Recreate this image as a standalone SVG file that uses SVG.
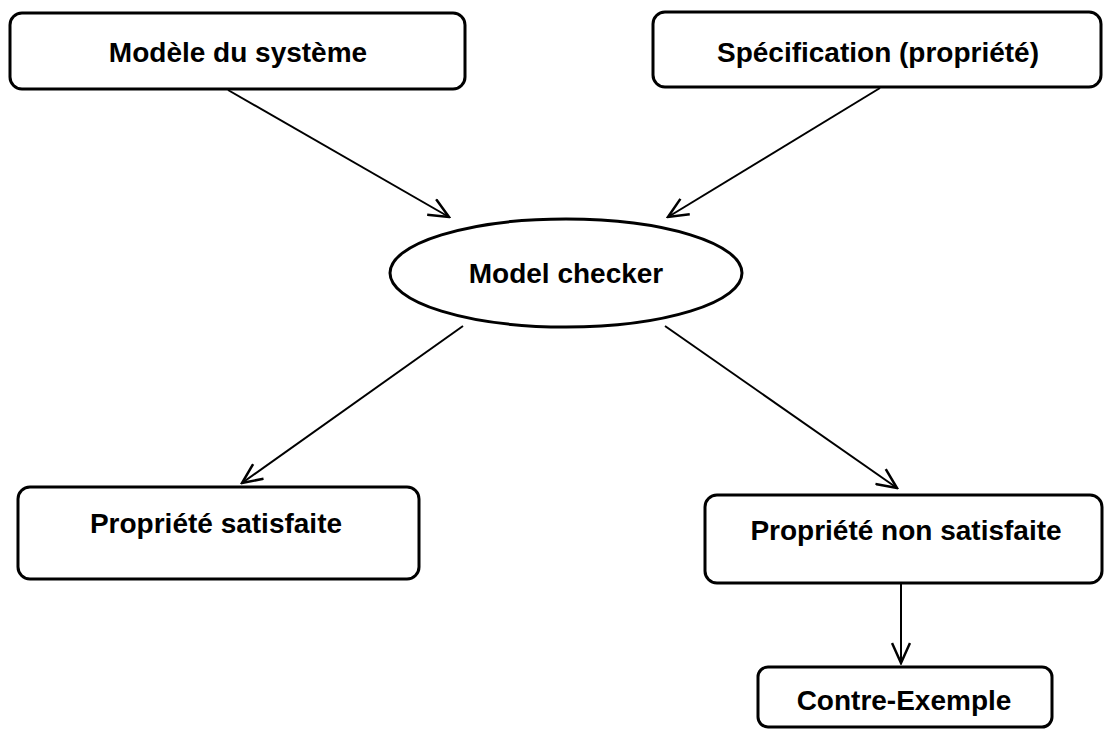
<svg xmlns="http://www.w3.org/2000/svg" width="1104" height="733" viewBox="0 0 1104 733">
<style>
.box{fill:#fff;stroke:#000;stroke-width:3}
.lbl{font-family:"Liberation Sans",Arial,sans-serif;font-weight:bold;font-size:28px;text-anchor:middle;fill:#000}
.edge{stroke:#000;stroke-width:2;fill:none;marker-end:url(#arr)}
</style>
<defs>
<marker id="arr" viewBox="0 0 24 20" refX="22" refY="10" markerWidth="24" markerHeight="20" markerUnits="userSpaceOnUse" orient="auto">
<path d="M2,1 L22,10 L2,19" fill="none" stroke="#000" stroke-width="2.5"/>
</marker>
</defs>
<rect width="1104" height="733" fill="#fff"/>
<g id="connectors">
<line class="edge" x1="228" y1="90" x2="449" y2="217"/>
<line class="edge" x1="880" y1="88" x2="668" y2="217"/>
<line class="edge" x1="463" y1="326" x2="242" y2="483"/>
<line class="edge" x1="665" y1="326" x2="897" y2="488"/>
<line class="edge" x1="901" y1="584" x2="901" y2="663"/>
</g>
<g id="modele">
<rect class="box" x="10" y="13" width="455" height="76" rx="12"/>
<text class="lbl" x="238" y="62">Modèle du système</text>
</g>
<g id="specification">
<rect class="box" x="653" y="12" width="448" height="75" rx="12"/>
<text class="lbl" x="878" y="62">Spécification (propriété)</text>
</g>
<g id="checker">
<ellipse class="box" cx="566" cy="273" rx="176" ry="54"/>
<text class="lbl" x="566" y="283">Model checker</text>
</g>
<g id="satisfaite">
<rect class="box" x="18" y="487" width="401" height="92" rx="12"/>
<text class="lbl" x="216" y="533">Propriété satisfaite</text>
</g>
<g id="nonsatisfaite">
<rect class="box" x="705" y="495" width="397" height="88" rx="12"/>
<text class="lbl" x="906" y="540">Propriété non satisfaite</text>
</g>
<g id="contreexemple">
<rect class="box" x="758" y="667" width="294" height="60" rx="10"/>
<text class="lbl" x="904" y="710">Contre-Exemple</text>
</g>
</svg>
